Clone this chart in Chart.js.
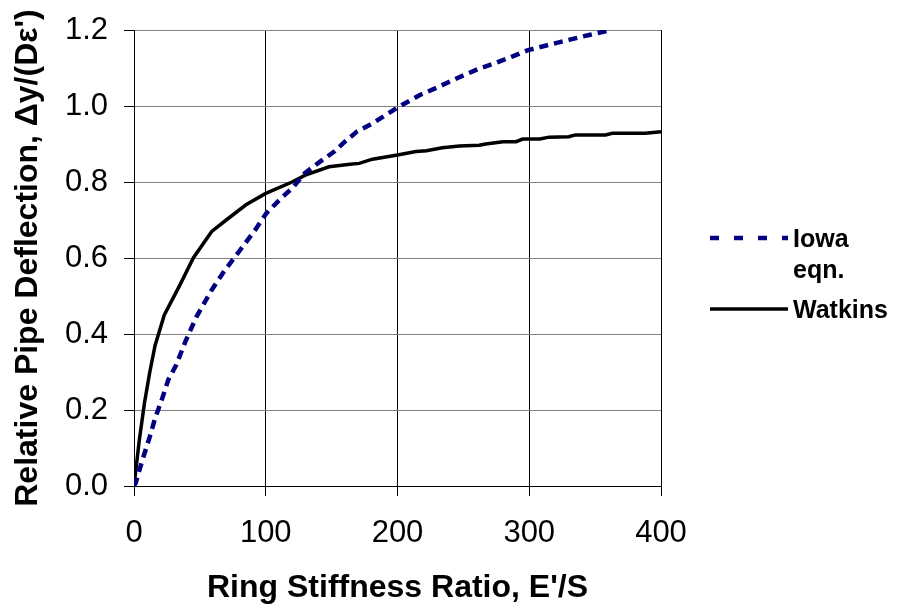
<!DOCTYPE html>
<html lang="en">
<head>
<meta charset="UTF-8">
<title>Relative Pipe Deflection</title>
<script src="https://cdn.jsdelivr.net/npm/chart.js@4.4.0/dist/chart.umd.min.js"></script>
<style>
  body { margin: 0; background: #fff; }
  canvas { display: block; }
</style>
</head>
<body>
<canvas id="chart" width="901" height="610"></canvas>
<script>
// values
const iowaX = [0, 1.3, 6, 12, 16, 21, 26, 32, 39, 47.5, 59, 69, 81, 92, 100.5, 111, 121, 129.5, 141, 152, 160, 169, 181, 200, 217, 229, 242, 251, 261, 273.5, 287, 299, 315, 330, 345.5, 362];
const iowaY = [0, 0.008, 0.064, 0.13, 0.178, 0.226, 0.279, 0.318, 0.38, 0.446, 0.516, 0.568, 0.623, 0.674, 0.718, 0.755, 0.787, 0.823, 0.853, 0.88, 0.906, 0.932, 0.954, 0.996, 1.029, 1.047, 1.068, 1.082, 1.097, 1.112, 1.13, 1.147, 1.161, 1.174, 1.187, 1.2];
const watkinsX = [0, 4, 8, 12, 16, 23, 35, 45, 59, 70, 85, 100, 120, 130, 148, 164, 171, 181, 200, 214, 222, 234, 247, 262, 267, 280, 290, 295, 308, 315, 330, 335, 358, 363, 388, 400];
const watkinsY = [0, 0.12, 0.22, 0.3, 0.37, 0.45, 0.53, 0.6, 0.67, 0.7, 0.74, 0.77, 0.8, 0.818, 0.84, 0.847, 0.849, 0.86, 0.871, 0.88, 0.882, 0.89, 0.895, 0.897, 0.9, 0.906, 0.906, 0.913, 0.913, 0.918, 0.919, 0.924, 0.924, 0.928, 0.928, 0.932];

const xTitle = "Ring Stiffness Ratio, E'/S";
const yTitle = "Relative Pipe Deflection, \u0394y/(D\u03B5')";
const iowaLabel = ['Iowa', 'eqn.'];
const watkinsLabel = ['Watkins'];

const FONT = '"Liberation Sans", Arial, sans-serif';

function toPoints(xs, ys) {
  return xs.map((x, i) => ({ x: x, y: ys[i] }));
}

// legend drawn at the right, with the wrapped "Iowa / eqn." label
const sideLegend = {
  id: 'sideLegend',
  afterDraw(chart) {
    const ctx = chart.ctx;
    const rows = [
      { ds: chart.data.datasets[0], lines: iowaLabel, y: 238, dash: [9, 15] },
      { ds: chart.data.datasets[1], lines: watkinsLabel, y: 309, dash: [] }
    ];
    ctx.save();
    rows.forEach(r => {
      ctx.beginPath();
      ctx.strokeStyle = r.ds.borderColor;
      ctx.lineWidth = r.ds.borderWidth;
      ctx.setLineDash(r.dash);
      ctx.moveTo(710, r.y);
      ctx.lineTo(788, r.y);
      ctx.stroke();
      ctx.setLineDash([]);
      ctx.fillStyle = '#000';
      ctx.font = 'bold 25px ' + FONT;
      ctx.textBaseline = 'alphabetic';
      ctx.textAlign = 'left';
      r.lines.forEach((t, i) => ctx.fillText(t, 793, r.y + 9 + i * 31));
    });
    ctx.restore();
  }
};

new Chart(document.getElementById('chart'), {
  type: 'scatter',
  data: {
    datasets: [
      {
        label: 'Iowa eqn.',
        data: toPoints(iowaX, iowaY),
        showLine: true,
        borderColor: '#000080',
        borderWidth: 4.5,
        borderDash: [9, 6],
        borderCapStyle: 'butt',
        pointRadius: 0,
        tension: 0
      },
      {
        label: 'Watkins',
        data: toPoints(watkinsX, watkinsY),
        showLine: true,
        borderColor: '#000000',
        borderWidth: 3.5,
        pointRadius: 0,
        tension: 0
      }
    ]
  },
  options: {
    responsive: false,
    animation: false,
    layout: { padding: { left: 0, right: 240, top: 30, bottom: 0 } },
    plugins: {
      legend: { display: false },
      tooltip: { enabled: false }
    },
    scales: {
      x: {
        type: 'linear',
        min: 0,
        max: 400,
        afterFit: s => { s.height = 124; s.paddingLeft = 0; s.paddingRight = 0; },
        ticks: {
          stepSize: 100,
          padding: 19,
          color: '#000',
          font: { family: FONT, size: 31 }
        },
        grid: { color: '#000', tickColor: '#000', tickLength: 10, lineWidth: 1 },
        border: { color: '#000', width: 1 },
        title: {
          display: true,
          text: xTitle,
          color: '#000',
          font: { family: FONT, size: 32, weight: 'bold' },
          padding: { top: 0, bottom: 3 }
        }
      },
      y: {
        min: 0,
        max: 1.2,
        afterFit: s => { s.width = 134; s.paddingTop = 0; s.paddingBottom = 0; },
        ticks: {
          stepSize: 0.2,
          padding: 16,
          color: '#000',
          font: { family: FONT, size: 31 },
          callback: v => v.toFixed(1)
        },
        grid: { color: '#808080', tickColor: '#000', tickLength: 10, lineWidth: 1 },
        border: { color: '#000', width: 1 },
        title: {
          display: true,
          text: yTitle,
          color: '#000',
          font: { family: FONT, size: 32, weight: 'bold' },
          padding: { top: 9, bottom: 0 }
        }
      }
    }
  },
  plugins: [sideLegend]
});
</script>
</body>
</html>
